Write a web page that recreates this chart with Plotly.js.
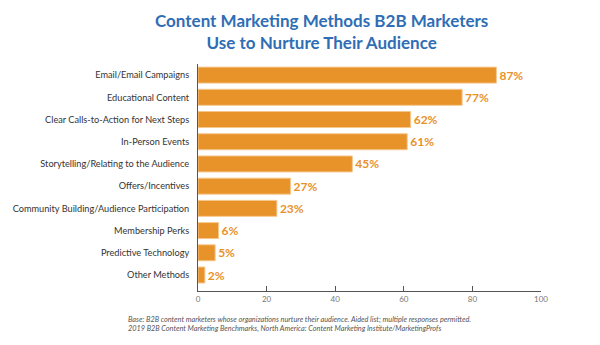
<!DOCTYPE html>
<html>
<head>
<meta charset="utf-8">
<script src="https://cdn.plot.ly/plotly-3.0.1.min.js"></script>
<style>html,body{margin:0;padding:0;background:#fff;}#chart{width:600px;height:345px;}</style>
</head>
<body>
<div id="chart"></div>
<script>
const categories = [
  "Email/Email Campaigns",
  "Educational Content",
  "Clear Calls-to-Action for Next Steps",
  "In-Person Events",
  "Storytelling/Relating to the Audience",
  "Offers/Incentives",
  "Community Building/Audience Participation",
  "Membership Perks",
  "Predictive Technology",
  "Other Methods"
];
const values = [87, 77, 62, 61, 45, 27, 23, 6, 5, 2];
const xTicks = [0, 20, 40, 60, 80, 100];
const titleText = "Content Marketing Methods B2B Marketers<br>Use to Nurture Their Audience";
const footnoteText = "Base: B2B content marketers whose organizations nurture their audience. Aided list; multiple responses permitted.<br>2019 B2B Content Marketing Benchmarks, North America: Content Marketing Institute/MarketingProfs";

const orange = "#E8922A";

const trace = {
  type: "bar",
  orientation: "h",
  x: values,
  y: categories,
  width: 0.72,
  marker: {color: orange, line: {color: "#F6C88E", width: 1}},
  text: values.map(v => v + "%"),
  textposition: "outside",
  cliponaxis: false,
  textfont: {family: "Lato, sans-serif", size: 12, color: orange, weight: "bold"},
  hoverinfo: "none"
};

const layout = {
  width: 600, height: 345,
  margin: {l: 198, r: 59, t: 64, b: 54},
  paper_bgcolor: "#fff", plot_bgcolor: "#fff",
  showlegend: false,
  xaxis: {
    range: [0, 100], tickvals: xTicks, ticktext: xTicks.map(String),
    showgrid: false, zeroline: false,
    showline: true, linecolor: "#555", linewidth: 1,
    ticks: "inside", ticklen: 5, tickcolor: "#555",
    tickfont: {family: "Lato, sans-serif", size: 8, color: "#777"},
    fixedrange: true
  },
  yaxis: {
    type: "category", categoryorder: "array", categoryarray: categories,
    range: [9.72, -0.5],
    showgrid: false, zeroline: false,
    showline: true, linecolor: "#555", linewidth: 1,
    ticks: "", ticklabelstandoff: 6,
    tickfont: {family: "Lato, sans-serif", size: 9.2, color: "#333"},
    fixedrange: true
  },
  annotations: [
    {
      text: "<b>" + titleText + "</b>",
      xref: "paper", yref: "paper", x: 0.361, y: 1.04,
      xanchor: "center", yanchor: "bottom", align: "center", showarrow: false,
      font: {family: "Lato, sans-serif", size: 17, color: "#2F6DB5"}
    },
    {
      text: "<i>" + footnoteText + "</i>",
      xref: "paper", yref: "paper", x: -0.21, y: -0.095,
      xanchor: "left", yanchor: "top", align: "left", showarrow: false,
      font: {family: "Lato, sans-serif", size: 7.3, color: "#555"}
    }
  ]
};

Plotly.newPlot("chart", [trace], layout, {displayModeBar: false, staticPlot: true});
</script>
</body>
</html>
